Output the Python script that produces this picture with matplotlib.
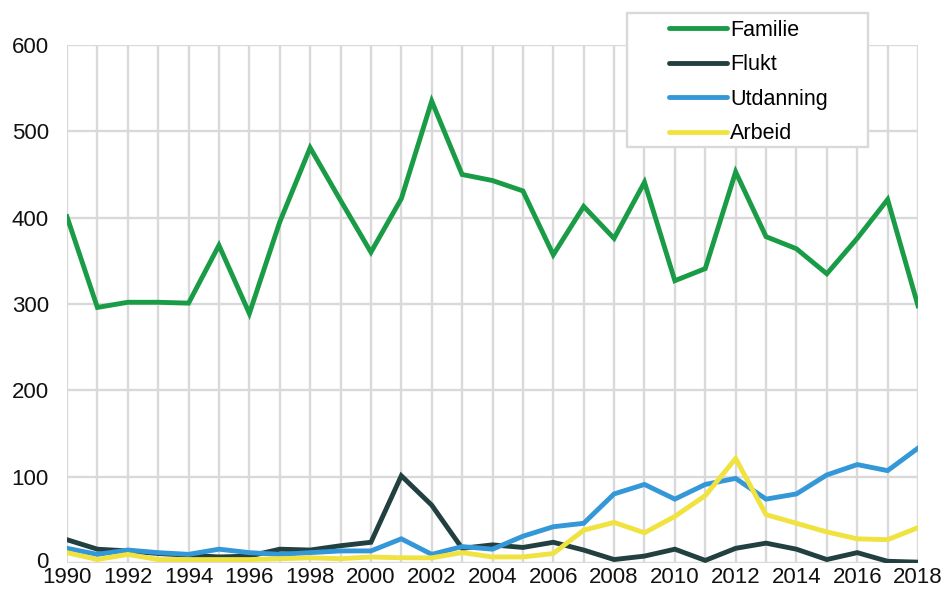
import matplotlib
matplotlib.use("Agg")
import matplotlib.pyplot as plt
import matplotlib.transforms as mtransforms
from matplotlib.patches import Rectangle

years = list(range(1990, 2019))
familie = [401, 296, 302, 302, 301, 368, 289, 395, 481, 420, 360, 422, 535, 450, 443,
           431, 357, 413, 376, 441, 327, 341, 453, 378, 364, 335, 376, 421, 298]
flukt = [27, 16, 14, 11, 9, 7, 8, 16, 15, 20, 24, 101, 67, 17, 21,
         18, 24, 15, 4, 8, 16, 3, 17, 23, 16, 4, 12, 2, 1]
utdanning = [17, 10, 15, 12, 10, 16, 12, 10, 12, 14, 14, 28, 10, 19, 16,
             31, 42, 46, 80, 91, 74, 91, 98, 74, 80, 102, 114, 107, 133]
arbeid = [12, 4, 10, 4, 4, 4, 4, 5, 6, 5, 7, 6, 6, 12, 7,
          7, 11, 38, 47, 35, 54, 78, 121, 56, 46, 36, 28, 27, 41]
series_names = ["Familie", "Flukt", "Utdanning", "Arbeid"]
colors = ["#1a9c47", "#22403f", "#3498d8", "#f0e23f"]
yticks = [0, 100, 200, 300, 400, 500, 600]
xtick_labels = list(range(1990, 2019, 2))

plt.rcParams['font.family'] = ['Liberation Sans', 'DejaVu Sans']

W, H = 943, 590
fig = plt.figure(figsize=(W/100, H/100), dpi=100)
ax = fig.add_axes([67/W, 27/H, (918-67)/W, (563-45)/H])

for name, vals, c in zip(series_names, [familie, flukt, utdanning, arbeid], colors):
    ax.plot(years, vals, color=c, lw=3.5, label=name, solid_joinstyle='miter', zorder=3)

ax.set_xlim(1990, 2018)
ax.set_ylim(0, 600)
ax.set_yticks(yticks)
ax.set_xticks(xtick_labels)
ax.set_xticks(years, minor=True)
ax.grid(True, which='both', axis='x', color='#d9d9d9', lw=1.7, zorder=0)
ax.grid(True, which='major', axis='y', color='#d9d9d9', lw=1.7, zorder=0)
ax.tick_params(axis='both', which='both', length=0, labelsize=16, colors='#111111')
ax.tick_params(axis='x', pad=3)
ax.tick_params(axis='y', pad=13)
for s in ax.spines.values():
    s.set_visible(False)
ax.set_axisbelow(True)

# nudge the "0" label up slightly so it does not collide with "1990"
lbl0 = ax.get_yticklabels()[0]
lbl0.set_transform(lbl0.get_transform() +
                   mtransforms.ScaledTranslation(0, 3/100, fig.dpi_scale_trans))

# legend frame box
fig.patches.append(Rectangle((627/W, 1 - 147/H), (868-627)/W, (147-13)/H,
                             transform=fig.transFigure, facecolor='white',
                             edgecolor='#d9d9d9', lw=1.7, zorder=5))

leg = fig.legend(loc='upper left', bbox_to_anchor=(669/W, 1 - 20/H), fontsize=15.5,
                 frameon=False, handlelength=2.7, handletextpad=0.15,
                 labelspacing=0.62, borderpad=0, borderaxespad=0)
leg.set_zorder(6)
for line in leg.get_lines():
    line.set_linewidth(3.5)
    line.set_solid_capstyle('round')

fig.savefig("out.png", dpi=100)
